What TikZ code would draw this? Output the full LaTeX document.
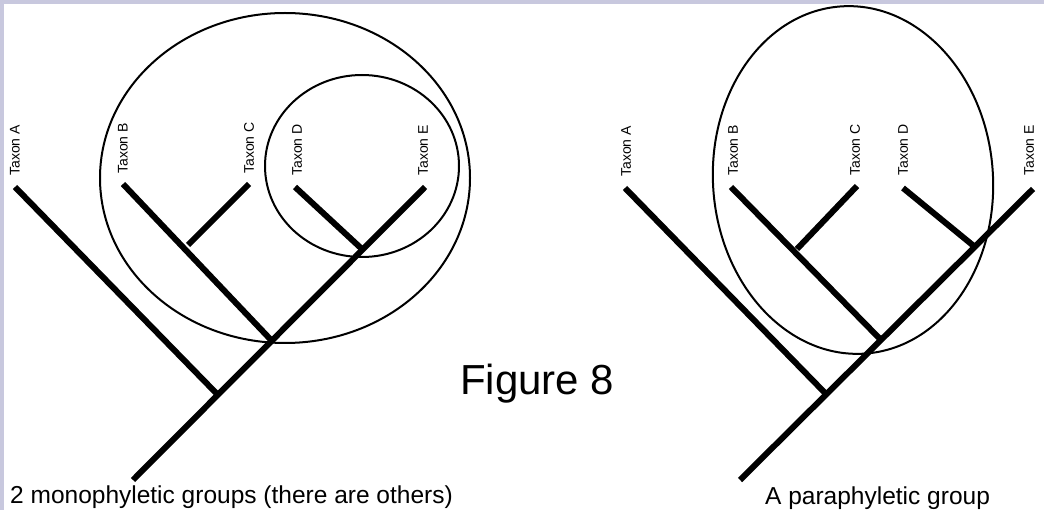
\documentclass[tikz,border=0pt]{standalone}
\usepackage{fontspec}
\setmainfont{Liberation Sans}
\definecolor{edgeband}{RGB}{200,200,222}
\begin{document}
\begin{tikzpicture}[x=1pt,y=-1pt,
  branch/.style={line width=6pt,line cap=butt},
  grp/.style={line width=2pt},
  taxlab/.style={rotate=90,anchor=west,inner sep=0pt,font=\fontsize{14}{14}\selectfont},
  caption/.style={anchor=base west,inner sep=0pt,font=\fontsize{24.5}{24.5}\selectfont},
  figlab/.style={anchor=base west,inner sep=0pt,font=\fontsize{42}{42}\selectfont}]
\useasboundingbox (0,0) rectangle (1044,510);
\fill[white] (0,0) rectangle (1044,510);
\fill[edgeband] (0,0) rectangle (1044,4);
\fill[edgeband] (0,0) rectangle (4,510);

% ---------- left tree ----------
\coordinate (LA) at (15,187);
\coordinate (LB) at (123,184);
\coordinate (LC) at (249,184);
\coordinate (LD) at (295,187);
\coordinate (LE) at (425,187);
\coordinate (Lroot) at (133,480);
\coordinate (LnA) at (218,395);
\coordinate (LnB) at (272,341);
\coordinate (LnC) at (188,245);
\coordinate (LnD) at (363,250);
\draw[branch] (Lroot) -- (LE);
\draw[branch] (LA) -- (LnA);
\draw[branch] (LB) -- (LnB);
\draw[branch] (LC) -- (LnC);
\draw[branch] (LD) -- (LnD);
\node[taxlab] (tLA) at (15,176) {Taxon A};
\node[taxlab] (tLB) at (123,174) {Taxon B};
\node[taxlab] (tLC) at (249,174) {Taxon C};
\node[taxlab] (tLD) at (297,176) {Taxon D};
\node[taxlab] (tLE) at (423,176) {Taxon E};
\draw[grp] (285,178) ellipse [x radius=185,y radius=165];
\draw[grp] (362,166) ellipse [x radius=97,y radius=91];

% ---------- right tree ----------
\coordinate (RA) at (625,188);
\coordinate (RB) at (731,187);
\coordinate (RC) at (857,186);
\coordinate (RD) at (903,188);
\coordinate (RE) at (1033,189);
\coordinate (Rroot) at (740,480);
\coordinate (RnA) at (827,395);
\coordinate (RnB) at (882,341);
\coordinate (RnC) at (797,249);
\coordinate (RnD) at (975,247);
\draw[branch] (Rroot) -- (RE);
\draw[branch] (RA) -- (RnA);
\draw[branch] (RB) -- (RnB);
\draw[branch] (RC) -- (RnC);
\draw[branch] (RD) -- (RnD);
\node[taxlab] (tRA) at (626,177) {Taxon A};
\node[taxlab] (tRB) at (733,176) {Taxon B};
\node[taxlab] (tRC) at (855,176) {Taxon C};
\node[taxlab] (tRD) at (903,176) {Taxon D};
\node[taxlab] (tRE) at (1029,176) {Taxon E};
\draw[grp] (853,180) ellipse [x radius=140,y radius=174,rotate=4];

% ---------- texts ----------
\node[figlab] (fig) at (460,395) {Figure 8};
\node[caption] (capL) at (10,503) {2 monophyletic groups (there are others)};
\node[caption] (capR) at (765,504) {A paraphyletic group};
\end{tikzpicture}
\end{document}
